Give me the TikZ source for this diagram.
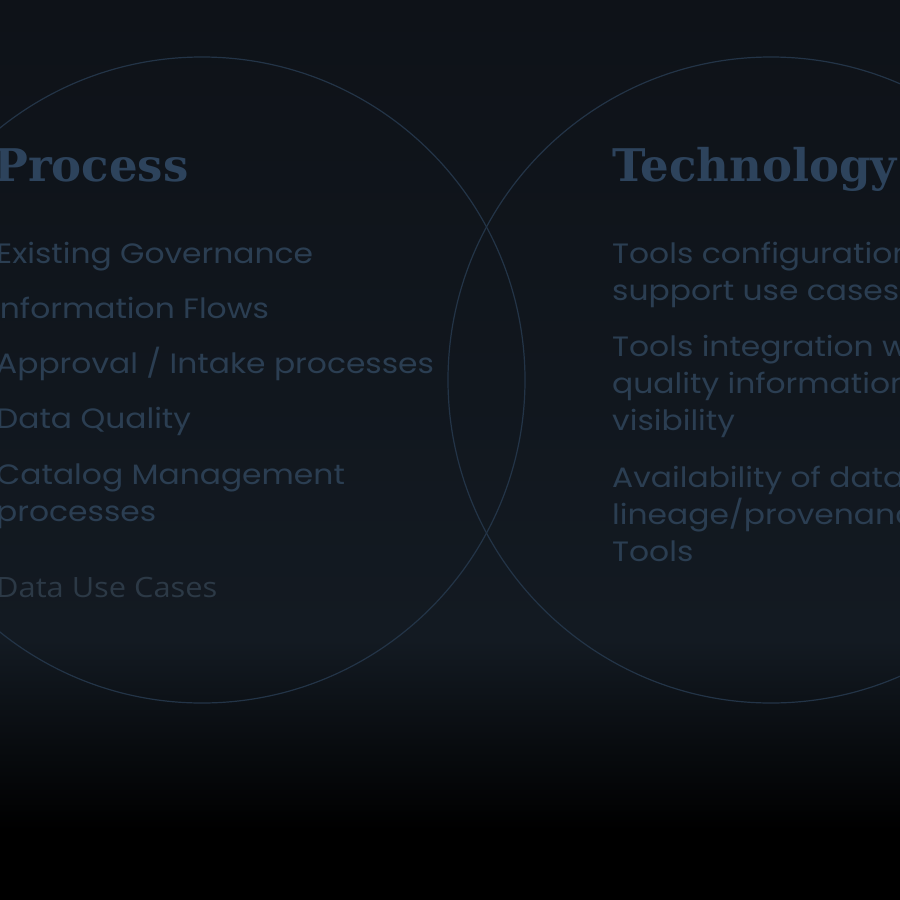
\documentclass[tikz,border=0pt]{standalone}
\usepackage{fontspec}
\newfontfamily\titlefont{DejaVu Serif}
\newfontfamily\itemfont[FakeStretch=1.12]{Poppins}
\newfontfamily\plainfont[FakeStretch=1.1]{Open Sans}
\definecolor{bgtop}{HTML}{0E1218}
\definecolor{bgmid}{HTML}{131A22}
\definecolor{titlec}{HTML}{2D435C}
\definecolor{itemc}{HTML}{2B3E52}
\definecolor{usec}{HTML}{2C3946}
\definecolor{ringc}{HTML}{233447}
\begin{document}
\begin{tikzpicture}[x=1pt,y=-1pt,
  ttl/.style={anchor=base west,inner sep=0pt,text=titlec,font=\titlefont\bfseries\fontsize{45}{50}\selectfont},
  itm/.style={anchor=base west,inner sep=0pt,text=itemc,font=\itemfont\fontsize{28}{30}\selectfont},
  usecase/.style={anchor=base west,inner sep=0pt,text=usec,font=\plainfont\fontsize{28}{30}\selectfont},
  ring/.style={draw=ringc,line width=1.2pt}]
\useasboundingbox (0,0) rectangle (900,900);
\clip (0,0) rectangle (900,900);
\shade[top color=bgtop,bottom color=bgmid] (0,0) rectangle (900,640);
\shade[top color=bgmid,bottom color=black] (0,640) rectangle (900,830);
\fill[black] (0,829) rectangle (900,900);
\node[ring,circle,minimum size=646pt,inner sep=0pt] (lc) at (202,380) {};
\node[ring,circle,minimum size=646pt,inner sep=0pt] (rc) at (771,380) {};
\node[ttl] (pt) at (-6,181) {Process};
\node[itm] (l1) at (-4,263) {Existing Governance};
\node[itm] (l2) at (-8,318) {Information Flows};
\node[itm] (l3) at (-4,373) {Approval / Intake processes};
\node[itm] (l4) at (-4,428) {Data Quality};
\node[itm] (l5) at (-4,484) {Catalog Management};
\node[itm] (l6) at (-4,521) {processes};
\node[usecase] (l7) at (-4,597) {Data Use Cases};
\node[ttl] (tt) at (612,181) {Technology};
\node[itm] (r1) at (612,263) {Tools configuration to};
\node[itm] (r2) at (612,300) {support use cases};
\node[itm] (r3) at (612,356) {Tools integration with};
\node[itm] (r4) at (612,393) {quality information};
\node[itm] (r5) at (612,430) {visibility};
\node[itm] (r6) at (612,487) {Availability of data};
\node[itm] (r7) at (612,524) {lineage/provenance};
\node[itm] (r8) at (612,561) {Tools};
\end{tikzpicture}
\end{document}
